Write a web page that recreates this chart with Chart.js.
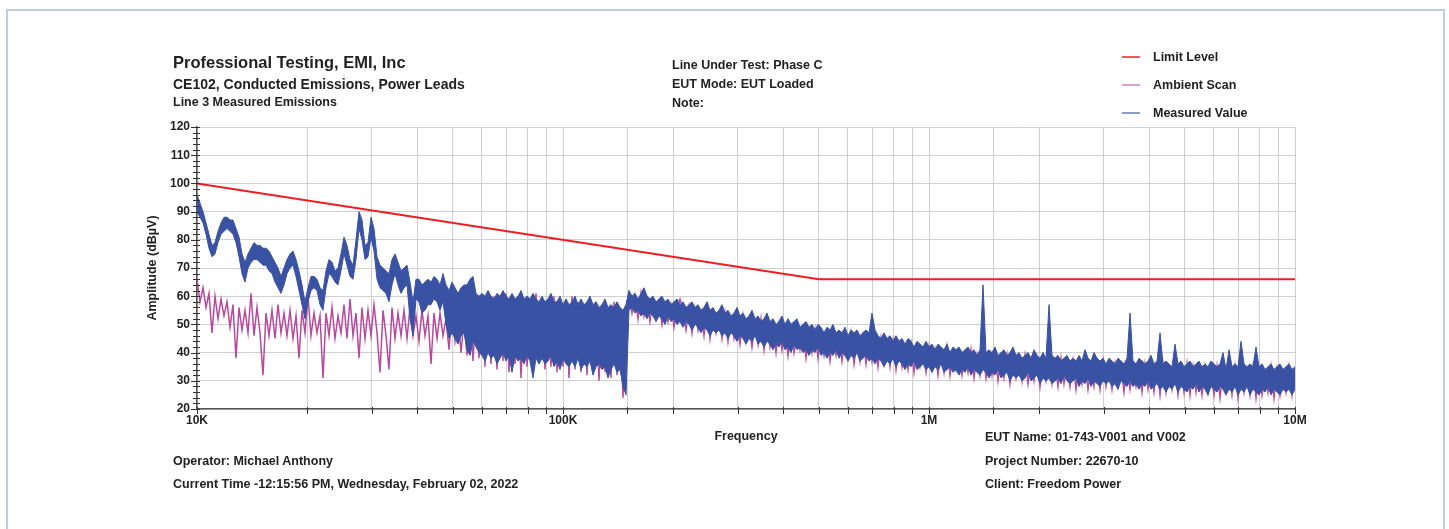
<!DOCTYPE html>
<html><head><meta charset="utf-8">
<script src="https://cdn.jsdelivr.net/npm/chart.js@4.4.1/dist/chart.umd.min.js"></script>
<style>
html,body{margin:0;padding:0;background:#fff;}
body{width:1449px;height:529px;position:relative;overflow:hidden;font-family:"Liberation Sans",Arial,Helvetica,sans-serif;font-weight:bold;color:#222;}
#frame{position:absolute;left:6px;top:9px;width:1435px;height:600px;border:2px solid #bccfd5;}
#wrap{position:absolute;left:0;top:0;width:1449px;height:529px;}
.t{position:absolute;white-space:nowrap;line-height:16px;font-size:12.5px;}
.leg{position:absolute;left:1122px;width:18px;height:0;border-top:2px solid;}
</style></head>
<body>
<div id="frame"></div>
<div id="wrap"><canvas id="c"></canvas></div>
<div class="t" style="left:173px;top:53px;font-size:16.5px;line-height:18px;">Professional Testing, EMI, Inc</div>
<div class="t" style="left:173px;top:76px;font-size:14px;">CE102, Conducted Emissions, Power Leads</div>
<div class="t" style="left:173px;top:94px;">Line 3 Measured Emissions</div>
<div class="t" style="left:672px;top:57px;">Line Under Test: Phase C</div>
<div class="t" style="left:672px;top:76px;">EUT Mode: EUT Loaded</div>
<div class="t" style="left:672px;top:95px;">Note:</div>
<div class="leg" style="top:56px;border-color:#f05a5a;"></div>
<div class="leg" style="top:84px;border-color:#dba3d3;"></div>
<div class="leg" style="top:112px;border-color:#8d9ccb;"></div>
<div class="t" style="left:1153px;top:49px;">Limit Level</div>
<div class="t" style="left:1153px;top:77px;">Ambient Scan</div>
<div class="t" style="left:1153px;top:105px;">Measured Value</div>
<div class="t" style="left:173px;top:453px;">Operator: Michael Anthony</div>
<div class="t" style="left:173px;top:476px;">Current Time -12:15:56 PM, Wednesday, February 02, 2022</div>
<div class="t" style="left:985px;top:429px;">EUT Name: 01-743-V001 and V002</div>
<div class="t" style="left:985px;top:453px;">Project Number: 22670-10</div>
<div class="t" style="left:985px;top:476px;">Client: Freedom Power</div>
<script>
// Sweep definition (log-spaced analyzer sweep points)
const sweepStartHz = 10000;
const sweepStopHz = 10000000;

// Measured Value: upper / lower edge of the trace band (dBuV)
const measuredUpper = [
96,93,90,86,82,78,79,83,86,88,
88,87,87,84,81,75,72,75,77,79,
78,78,77,77,76,74,72,70,67,70,
73,75,76,73,69,64,58,63,67,67,
66,63,62,69,73,72,69,70,75,81,
78,73,71,80,90,87,78,79,88,84,
74,71,70,69,68,73,75,72,69,70,
71,65,58,66,66,64,65,66,65,67,
66,64,68,64,62,65,63,61,63,64,
64,66,67,61,60,61,60,62,60,59,
61,60,62,60,59,61,59,60,62,59,
60,59,61,59,58,60,58,59,61,58,
58,60,57,59,57,58,60,57,59,57,
58,60,57,58,56,57,59,56,57,56,
58,56,55,57,
62,60,61,59,61,63,60,59,60,58,
59,60,58,59,57,58,59,57,58,56,
57,58,56,57,55,56,58,55,56,54,
55,57,54,55,53,54,56,53,54,52,
53,55,52,53,51,52,54,51,52,50,
51,53,50,52,50,51,52,49,50,51,
49,50,48,50,49,47,49,48,50,47,
48,47,49,46,48,47,48,46,47,48,
47,54,48,46,45,47,45,46,44,46,
44,45,43,45,44,42,44,43,42,44,
42,43,41,43,42,41,43,40,42,41,
42,40,41,42,40,41,39,41,64,40,
41,40,42,39,40,41,39,40,42,39,
40,38,39,40,38,41,39,38,40,38,
57,39,38,39,37,38,39,37,38,37,
39,37,41,38,37,40,38,37,38,36,
38,37,36,38,37,36,38,54,37,36,
38,37,36,37,39,36,37,47,36,37,
36,35,43,36,37,35,36,37,35,36,
37,35,36,35,37,36,35,36,40,34,
41,35,36,35,44,36,35,36,35,42,
35,36,34,35,36,34,35,36,34,35,
36,34,35
];
const measuredLower = [
90,88,86,82,77,74,75,79,82,83,
84,83,82,79,74,68,65,70,72,73,
73,72,71,71,69,68,65,63,61,64,
68,70,71,67,62,57,52,58,62,63,
62,57,55,63,68,67,65,64,69,75,
71,67,66,73,84,80,73,74,81,76,
66,63,62,61,58,64,68,64,61,63,
64,52,46,59,58,54,55,57,57,59,
58,55,58,50,45,47,45,43,46,47,
41,39,44,42,40,39,37,40,38,39,
36,38,40,37,39,33,39,37,38,36,
39,37,31,38,36,38,36,37,39,35,
37,34,38,36,35,37,35,38,34,36,
35,37,32,35,36,34,35,31,34,36,
33,34,28,25,
55,56,54,55,53,54,52,54,53,51,
53,52,50,53,51,52,50,51,49,51,
50,48,50,49,47,49,48,46,48,47,
48,46,47,45,47,46,44,46,45,43,
45,44,46,43,44,42,44,43,41,43,
42,44,41,42,40,43,41,42,40,41,
39,41,40,42,39,40,38,40,39,41,
38,40,39,37,39,38,40,37,38,39,
37,38,36,38,37,35,37,36,38,35,
37,36,34,36,35,37,34,35,36,34,
35,33,35,34,36,33,34,35,33,34,
32,34,33,35,32,34,33,32,34,33,
31,33,32,34,31,32,33,30,32,31,
32,30,31,33,30,31,32,29,31,30,
31,29,30,31,29,32,30,29,30,31,
28,30,29,31,28,30,29,28,30,29,
30,28,29,27,30,29,28,30,28,29,
27,29,28,30,27,28,29,27,28,26,
28,27,29,26,28,27,26,28,27,29,
26,28,27,25,28,27,26,28,27,25,
27,26,28,25,27,26,28,25,27,26,
25,27,26,28,25,27,26,25,27,26,
27,25,27
];
// Ambient Scan trace (dBuV)
const ambientScan = [
66,58,63,56,61,47,60,52,59,53,
58,49,57,38,56,48,55,47,61,46,
56,47,32,54,46,55,45,57,47,54,
46,55,45,53,38,55,47,60,46,54,
47,53,31,54,46,56,45,53,47,57,
45,59,46,54,38,56,45,55,46,57,
47,33,55,46,34,56,45,54,46,55,
45,56,46,53,44,55,46,53,36,54,
45,54,46,52,41,55,44,53,40,52,
39,56,37,55,38,58,35,57,36,60,
34,59,37,61,33,58,36,60,31,59,
35,58,33,61,36,59,34,57,35,60,
33,58,35,59,31,60,34,58,33,57,
32,59,35,58,30,57,33,56,31,58,
32,55,24,56,
61,54,60,52,61,53,59,51,58,52,
58,50,57,51,57,49,56,59,55,48,
56,47,55,48,54,46,56,45,54,47,
53,45,54,44,52,45,51,43,53,44,
51,42,50,43,52,41,50,42,49,40,
50,41,48,39,49,40,47,41,48,38,
47,40,48,38,46,39,47,37,45,39,
46,37,45,38,47,36,44,37,46,36,
45,37,44,35,45,36,43,35,44,34,
43,35,42,34,43,33,42,35,41,33,
42,34,41,32,40,33,42,32,40,34,
40,32,39,33,41,31,39,32,40,31,
39,32,40,30,38,31,39,29,38,31,
38,30,39,29,37,30,38,28,37,30,
37,29,36,28,38,29,36,28,37,27,
36,29,37,27,35,28,36,27,37,28,
35,27,36,28,35,26,36,27,34,28,
35,26,36,27,34,26,35,25,36,26,
34,27,35,25,34,26,36,25,35,26,
34,25,35,26,33,25,35,24,34,26,
34,25,35,24,34,26,33,25,35,24,
34,25,33,26,35,24,34,25,33,26,
35,25,34
];
// Limit line (CE102)
const limitFreqHz = [10000, 500000, 10000000];
const limitLevel = [100, 66, 66];
// Axis tick labels
const xTickValues = [10000, 100000, 1000000, 10000000];
const xTickText = ['10K', '100K', '1M', '10M'];

const nPts = measuredUpper.length;
const sweepHz = measuredUpper.map((_, i) => sweepStartHz * Math.pow(sweepStopHz / sweepStartHz, i / (nPts - 1)));
const toPts = arr => arr.map((v, i) => ({x: sweepHz[i], y: v}));

const FONT = '"Liberation Sans", Arial, Helvetica, sans-serif';
const BLUE = '#3a52a4', MAG = '#b84a9e', RED = '#ee1d23';

const tickMarks = {
  id: 'tickMarks',
  afterDraw(chart) {
    const {ctx, chartArea: a} = chart;
    const xs = chart.scales.x, ys = chart.scales.y;
    ctx.save();
    ctx.strokeStyle = '#333';
    ctx.lineWidth = 1;
    ctx.beginPath();
    ys.ticks.forEach(t => {
      const py = Math.round(ys.getPixelForValue(t.value)) + 0.5;
      const major = Math.round(t.value) % 10 === 0;
      ctx.moveTo(a.left - (major ? 6 : 4), py);
      ctx.lineTo(a.left + 3, py);
    });
    xs.ticks.forEach(t => {
      const px = Math.round(xs.getPixelForValue(t.value)) + 0.5;
      ctx.moveTo(px, a.bottom - 2);
      ctx.lineTo(px, a.bottom + 5);
    });
    ctx.stroke();
    ctx.restore();
  }
};

new Chart(document.getElementById('c'), {
  type: 'line',
  data: {
    datasets: [
      {label: 'Limit Level', data: limitFreqHz.map((f, i) => ({x: f, y: limitLevel[i]})),
       borderColor: RED, borderWidth: 2, pointRadius: 0, fill: false, tension: 0},
      {label: 'Measured Value', data: toPts(measuredUpper),
       borderColor: BLUE, borderWidth: 1, pointRadius: 0, fill: false, tension: 0},
      {label: 'Measured Value (low)', data: toPts(measuredLower),
       borderColor: BLUE, borderWidth: 1, pointRadius: 0, fill: '-1', backgroundColor: BLUE, tension: 0},
      {label: 'Ambient Scan', data: toPts(ambientScan),
       borderColor: MAG, borderWidth: 1.5, pointRadius: 0, fill: false, tension: 0}
    ]
  },
  options: {
    responsive: true,
    maintainAspectRatio: false,
    animation: false,
    events: [],
    layout: {padding: {left: 140, top: 127, right: 154, bottom: 85}},
    plugins: {legend: {display: false}, tooltip: {enabled: false}},
    scales: {
      x: {
        type: 'logarithmic', min: 10000, max: 10000000,
        afterFit(s) { s.height = 35; },
        ticks: {
          autoSkip: false, maxRotation: 0, padding: 4, color: '#222',
          font: {family: FONT, size: 12, weight: 'bold'},
          callback(v) {
            const k = xTickValues.findIndex(t => Math.abs(t - v) / t < 1e-6);
            return k >= 0 ? xTickText[k] : '';
          }
        },
        grid: {color: '#cfcfcf', lineWidth: 1, drawTicks: false},
        border: {display: true, color: '#555', width: 1.5},
        title: {display: true, text: 'Frequency', color: '#222',
                font: {family: FONT, size: 12.5, weight: 'bold'}, padding: {top: 0, bottom: 0}}
      },
      y: {
        min: 20, max: 120,
        afterFit(s) { s.width = 57; },
        ticks: {
          stepSize: 2, autoSkip: false, padding: 7, color: '#222',
          font: {family: FONT, size: 12, weight: 'bold'},
          callback(v) { return Math.round(v) % 10 === 0 ? String(v) : ''; }
        },
        grid: {drawTicks: false, lineWidth: 1,
               color: ctx => (ctx.tick && Math.round(ctx.tick.value) % 10 === 0) ? '#cfcfcf' : 'rgba(0,0,0,0)'},
        border: {display: true, color: '#555', width: 1.5},
        title: {display: true, text: 'Amplitude (dBµV)', color: '#222',
                font: {family: FONT, size: 12.5, weight: 'bold'}, padding: {top: 5, bottom: 0}}
      }
    }
  },
  plugins: [tickMarks]
});
</script>
</body></html>
